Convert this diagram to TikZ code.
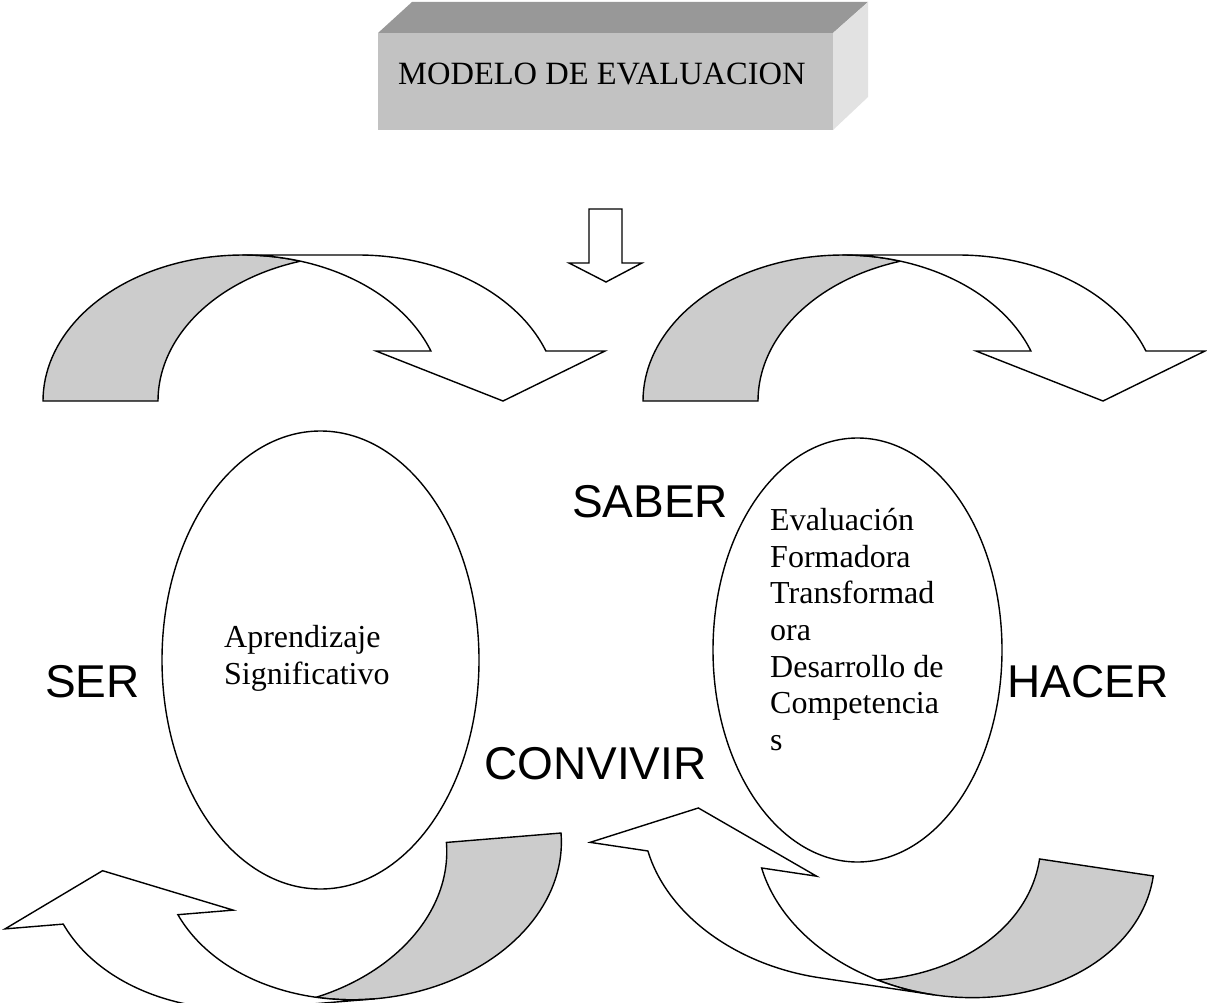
\documentclass[tikz,border=0pt]{standalone}
\usepackage{fontspec}
\setmainfont{Liberation Serif}
\newfontfamily\arialfont{Liberation Sans}
\usetikzlibrary{shapes.geometric}
\definecolor{topface}{HTML}{989898}
\definecolor{frontface}{HTML}{C2C2C2}
\definecolor{sideface}{HTML}{E2E2E2}
\definecolor{bandgray}{HTML}{CCCCCC}
\newcommand{\serifbig}{\fontsize{32}{37}\selectfont}
\newcommand{\sansbig}{\arialfont\fontsize{46}{52}\selectfont}
\tikzset{
  outline/.style={draw=black, line width=1.4pt, line join=miter},
  grayband/.style={outline, fill=bandgray},
  whiteband/.style={outline, fill=white},
  bigword/.style={font=\sansbig, inner sep=0pt, anchor=base west},
  serifline/.style={font=\serifbig, inner sep=0pt, anchor=base west},
  oval/.style={draw=black, line width=1.4pt, ellipse, inner sep=0pt, fill=white}
}
% canonical curved arrow: origin at centre of the base ellipse, y down
\newcommand{\curvedband}[1]{%
  \pgfmathsetmacro{\headang}{360-asin(50/#1)}%
  \path[grayband] plot[domain=180:286.71,samples=50,variable=\t] ({200*cos(\t)},{#1*sin(\t)})
     -- plot[domain=253.29:180,samples=50,variable=\t] ({115+200*cos(\t)},{#1*sin(\t)}) -- cycle;
  \path[whiteband] (0,-#1) -- (115,-#1)
     -- plot[domain=270:\headang,samples=50,variable=\t] ({115+200*cos(\t)},{#1*sin(\t)})
     -- (362,-50) -- (260,0) -- (133,-50)
     -- plot[domain=\headang:270,samples=50,variable=\t] ({200*cos(\t)},{#1*sin(\t)}) -- cycle;
}
\begin{document}
\begin{tikzpicture}[x=1pt,y=-1pt]
\useasboundingbox (0,0) rectangle (1207,1003);
\fill[white] (0,0) rectangle (1207,1003);
% title block
\fill[frontface] (378,33) rectangle (833,130);
\fill[topface] (378,33) -- (412,2) -- (868,2) -- (833,33) -- cycle;
\fill[sideface] (833,33) -- (868,2) -- (868,97) -- (833,130) -- cycle;
\node[font=\fontsize{32.5}{37}\selectfont, inner sep=0pt, anchor=base west] (title) at (398,85) {MODELO DE EVALUACION};
% down arrow
\draw[outline, fill=white] (589,209) -- (622,209) -- (622,263) -- (642,263) -- (606,282) -- (569,263) -- (589,263) -- cycle;
% curved arrows
\begin{scope}[shift={(243,401)}]\curvedband{146}\end{scope}
\begin{scope}[shift={(843,401)}]\curvedband{146}\end{scope}
\begin{scope}[shift={(361.7,849.4)},rotate=184.7]\curvedband{150}\end{scope}
\begin{scope}[shift={(955.5,846.4)},rotate=171.5]\curvedband{150}\end{scope}
% ovals
\node[oval, minimum width=317pt, minimum height=458pt] (lov) at (320.5,660) {};
\node[oval, minimum width=289pt, minimum height=424pt] (rov) at (857.5,650) {};
% oval texts
\node[serifline] (ap1) at (224,647) {Aprendizaje};
\node[serifline] (ap2) at (224,684) {Significativo};
\node[serifline] (ev1) at (770,530) {Evaluación};
\node[serifline] (ev2) at (770,567) {Formadora};
\node[serifline] (ev3) at (770,603) {Transformad};
\node[serifline] (ev4) at (770,640) {ora};
\node[serifline] (ev5) at (770,677) {Desarrollo de};
\node[serifline] (ev6) at (770,713) {Competencia};
\node[serifline] (ev7) at (770,750) {s};
% big words
\node[bigword] (saber) at (572,517) {SABER};
\node[bigword] (ser) at (45,697) {SER};
\node[bigword] (hacer) at (1007,697) {HACER};
\node[bigword] (convivir) at (484,779) {CONVIVIR};
\end{tikzpicture}
\end{document}
